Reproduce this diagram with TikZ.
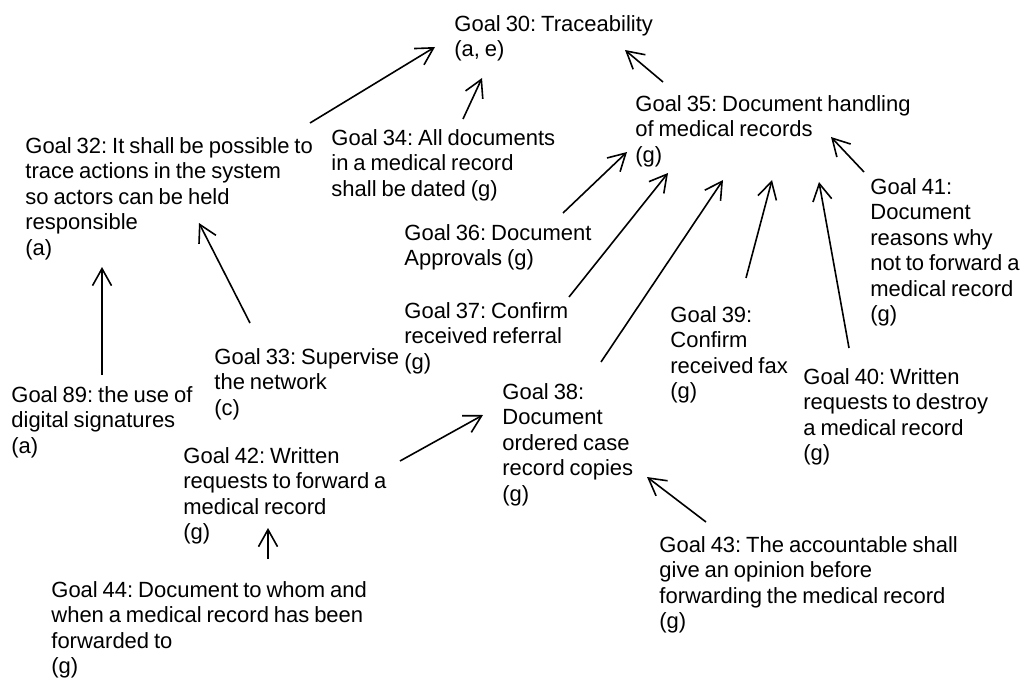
\documentclass[tikz,border=0pt]{standalone}
\usepackage{fontspec}
\setmainfont{Liberation Sans}[WordSpace=0.8]
\usepackage{tikz}
\usetikzlibrary{arrows.meta}
\frenchspacing

\begin{document}
\begin{tikzpicture}[x=0.5pt,y=-0.5pt,
    goal/.style={anchor=north west,inner sep=0pt,align=left,
        font=\fontsize{11}{12.75}\selectfont,
        execute at begin node=\rule{0pt}{9.9pt}},
    >={Straight Barb[length=8.5pt,width=9.5pt]}]
    \useasboundingbox (0,0) rectangle (1027,679);
    \node[goal] (g30) at (454,15)  {Goal 30: Traceability\\(a, e)};
    \node[goal] (g32) at (25,137)  {Goal 32: It shall be possible to\\trace actions in the system\\so actors can be held\\responsible\\(a)};
    \node[goal] (g34) at (331,129) {Goal 34: All documents\\in a medical record\\shall be dated (g)};
    \node[goal] (g35) at (635,95)  {Goal 35: Document handling\\of medical records\\(g)};
    \node[goal] (g36) at (404,224) {Goal 36: Document\\Approvals (g)};
    \node[goal] (g37) at (404,302) {Goal 37: Confirm\\received referral\\(g)};
    \node[goal] (g33) at (214,348) {Goal 33: Supervise\\the network\\(c)};
    \node[goal] (g89) at (11,386)  {Goal 89: the use of\\digital signatures\\(a)};
    \node[goal] (g42) at (183,447) {Goal 42: Written\\requests to forward a\\medical record\\(g)};
    \node[goal] (g44) at (51,581)  {Goal 44: Document to whom and\\when a medical record has been\\forwarded to\\(g)};
    \node[goal] (g38) at (502,383) {Goal 38:\\Document\\ordered case\\record copies\\(g)};
    \node[goal] (g39) at (670,306) {Goal 39:\\Confirm\\received fax\\(g)};
    \node[goal] (g40) at (803,368) {Goal 40: Written\\requests to destroy\\a medical record\\(g)};
    \node[goal] (g41) at (870,178) {Goal 41:\\Document\\reasons why\\not to forward a\\medical record\\(g)};
    \node[goal] (g43) at (659,536) {Goal 43: The accountable shall\\give an opinion before\\forwarding the medical record\\(g)};
    %
    \path[->,line width=0.8pt]
        ([shift={(285,-14)}]g32.north west) edge ([shift={(-19,32)}]g30.north west)
        ([shift={(132,-10)}]g34.north west) edge ([shift={(28,63)}]g30.north west)
        ([shift={(28,-13)}]g35.north west)  edge ([shift={(171,35)}]g30.north west)
        ([shift={(159,-11)}]g36.north west) edge ([shift={(-8,57)}]g35.north west)
        ([shift={(165,-5)}]g37.north west)  edge ([shift={(33,78)}]g35.north west)
        ([shift={(99,-21)}]g38.north west)  edge ([shift={(88,85)}]g35.north west)
        ([shift={(76,-28)}]g39.north west)  edge ([shift={(137,85)}]g35.north west)
        ([shift={(46,-20)}]g40.north west)  edge ([shift={(184,87)}]g35.north west)
        ([shift={(-6,-6)}]g41.north west)   edge ([shift={(196,42)}]g35.north west)
        ([shift={(91,-11)}]g89.north west)  edge ([shift={(77,130)}]g32.north west)
        ([shift={(36,-25)}]g33.north west)  edge ([shift={(174,86)}]g32.north west)
        ([shift={(217,14)}]g42.north west)  edge ([shift={(-19,32)}]g38.north west)
        ([shift={(217,-22)}]g44.north west) edge ([shift={(85,81)}]g42.north west)
        ([shift={(47,-14)}]g43.north west)  edge ([shift={(145,94)}]g38.north west)
    ; %-path-%
\end{tikzpicture}
\end{document}
